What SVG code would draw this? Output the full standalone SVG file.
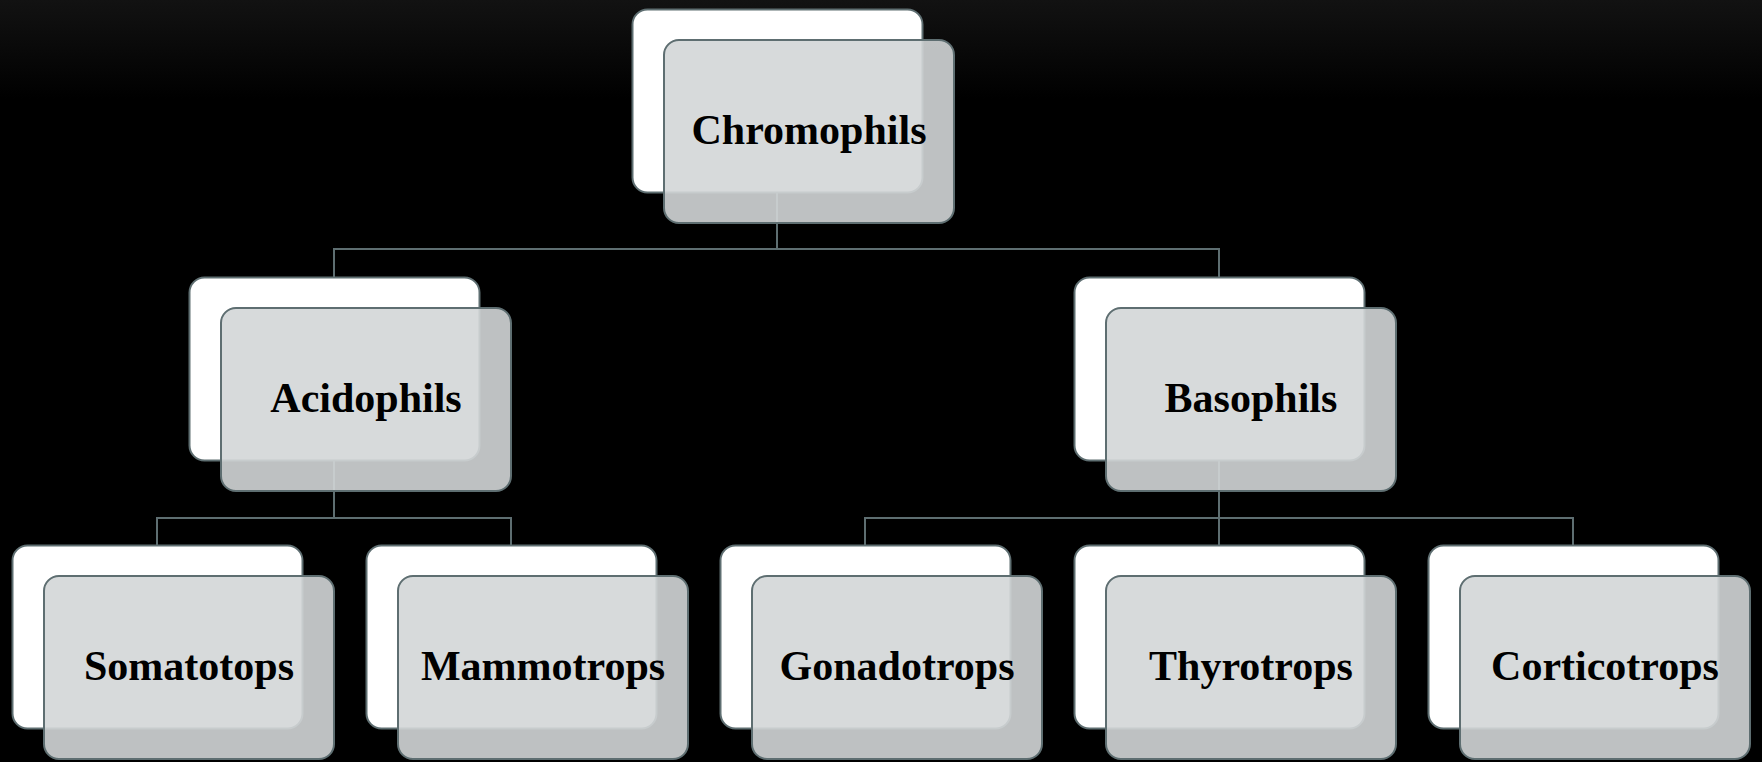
<svg xmlns="http://www.w3.org/2000/svg" width="1762" height="762" viewBox="0 0 1762 762">
  <defs>
    <linearGradient id="bg" x1="0" y1="0" x2="0" y2="1">
      <stop offset="0" stop-color="#121212"/>
      <stop offset="0.13" stop-color="#000000"/>
      <stop offset="1" stop-color="#000000"/>
    </linearGradient>
  </defs>
  <style>
    .back { fill: #ffffff; stroke: #5e6e71; stroke-width: 2; }
    .front { fill: #d3d6d7; fill-opacity: 0.9; stroke: #5e6e71; stroke-width: 2; }
    .lbl { font-family: "Liberation Serif", "Times New Roman", serif; font-weight: bold; font-size: 42px; fill: #000000; text-anchor: middle; }
    .conn { fill: none; stroke: #5e6e71; stroke-width: 2; }
  </style>
  <rect x="0" y="0" width="1762" height="762" fill="url(#bg)"/>
  <g id="connectors">
    <path class="conn" d="M777 192.5 V249 M334 277.5 V249 H1219 V277.5"/>
    <path class="conn" d="M334 460.5 V518 M157 545.5 V518 H511 V545.5"/>
    <path class="conn" d="M1219 460.5 V545.5 M865 545.5 V518 H1573 V545.5"/>
  </g>
  <g id="chromophils">
    <rect class="back" x="632.5" y="9.5" width="290" height="183" rx="15"/>
    <rect class="front" x="664" y="40" width="290" height="183" rx="15"/>
    <text class="lbl" x="809" y="144">Chromophils</text>
  </g>
  <g id="acidophils">
    <rect class="back" x="189.5" y="277.5" width="290" height="183" rx="15"/>
    <rect class="front" x="221" y="308" width="290" height="183" rx="15"/>
    <text class="lbl" x="366" y="412">Acidophils</text>
  </g>
  <g id="basophils">
    <rect class="back" x="1074.5" y="277.5" width="290" height="183" rx="15"/>
    <rect class="front" x="1106" y="308" width="290" height="183" rx="15"/>
    <text class="lbl" x="1251" y="412">Basophils</text>
  </g>
  <g id="somatotops">
    <rect class="back" x="12.5" y="545.5" width="290" height="183" rx="15"/>
    <rect class="front" x="44" y="576" width="290" height="183" rx="15"/>
    <text class="lbl" x="189" y="680">Somatotops</text>
  </g>
  <g id="mammotrops">
    <rect class="back" x="366.5" y="545.5" width="290" height="183" rx="15"/>
    <rect class="front" x="398" y="576" width="290" height="183" rx="15"/>
    <text class="lbl" x="543" y="680">Mammotrops</text>
  </g>
  <g id="gonadotrops">
    <rect class="back" x="720.5" y="545.5" width="290" height="183" rx="15"/>
    <rect class="front" x="752" y="576" width="290" height="183" rx="15"/>
    <text class="lbl" x="897" y="680">Gonadotrops</text>
  </g>
  <g id="thyrotrops">
    <rect class="back" x="1074.5" y="545.5" width="290" height="183" rx="15"/>
    <rect class="front" x="1106" y="576" width="290" height="183" rx="15"/>
    <text class="lbl" x="1251" y="680">Thyrotrops</text>
  </g>
  <g id="corticotrops">
    <rect class="back" x="1428.5" y="545.5" width="290" height="183" rx="15"/>
    <rect class="front" x="1460" y="576" width="290" height="183" rx="15"/>
    <text class="lbl" x="1605" y="680">Corticotrops</text>
  </g>
</svg>
